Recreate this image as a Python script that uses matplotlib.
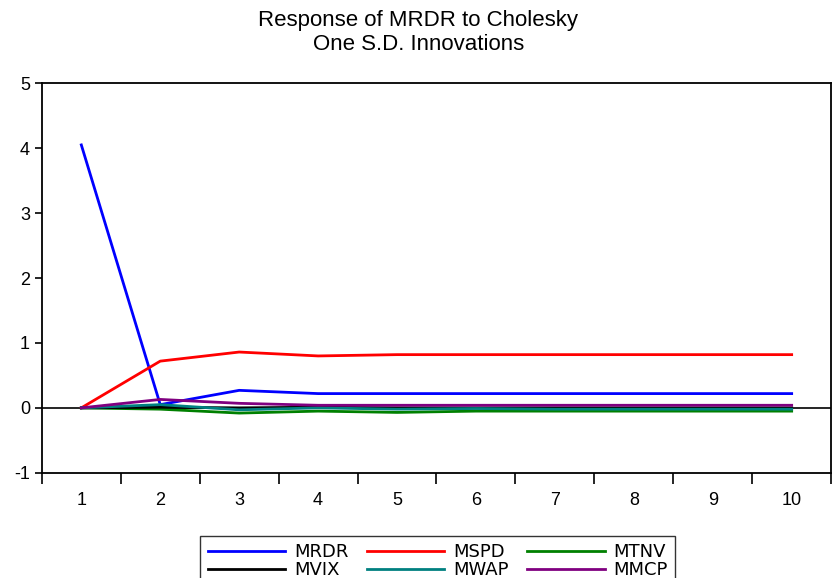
import numpy as np
import matplotlib.pyplot as plt

plt.rcParams['font.family'] = ['Liberation Sans', 'DejaVu Sans']
plt.rcParams['axes.unicode_minus'] = False

# periods
periods = [1, 2, 3, 4, 5, 6, 7, 8, 9, 10]

# responses of MRDR to each shock
mrdr = [4.05, 0.05, 0.27, 0.22, 0.22, 0.22, 0.22, 0.22, 0.22, 0.22]
mspd = [0.0, 0.72, 0.86, 0.80, 0.82, 0.82, 0.82, 0.82, 0.82, 0.82]
mtnv = [0.0, -0.02, -0.08, -0.05, -0.07, -0.05, -0.05, -0.05, -0.05, -0.05]
mvix = [0.0, 0.01, 0.0, 0.01, 0.0, 0.0, 0.0, 0.0, 0.0, 0.0]
mwap = [0.0, 0.05, -0.03, 0.0, -0.02, -0.01, -0.02, -0.02, -0.02, -0.02]
mmcp = [0.0, 0.13, 0.07, 0.04, 0.04, 0.04, 0.04, 0.04, 0.04, 0.04]

series = [
    ("MRDR", mrdr, "#0000ff"),
    ("MSPD", mspd, "#ff0000"),
    ("MTNV", mtnv, "#008000"),
    ("MVIX", mvix, "#000000"),
    ("MWAP", mwap, "#008080"),
    ("MMCP", mmcp, "#800080"),
]

fig = plt.figure(figsize=(8.37, 5.78), dpi=100)
ax = fig.add_axes([0.050, 0.182, 0.943, 0.674])

ax.axhline(0, color="black", lw=1.2, zorder=1)
lines = []
for name, vals, col in series:
    ln, = ax.plot(periods, vals, color=col, lw=2, label=name, zorder=2)
    lines.append(ln)

ax.set_xlim(0.5, 10.5)
ax.set_ylim(-1, 5)
ax.set_yticks([-1, 0, 1, 2, 3, 4, 5])
ax.set_xticks(periods)
ax.set_xticks(np.arange(0.5, 11, 1), minor=True)
ax.tick_params(axis="x", which="major", length=0, pad=14, labelsize=13)
ax.tick_params(axis="x", which="minor", length=8, width=1.2, direction="out")
ax.tick_params(axis="y", length=5, width=1.2, labelsize=13)
for s in ax.spines.values():
    s.set_linewidth(1.3)

fig.suptitle("Response of MRDR to Cholesky\nOne S.D. Innovations",
             y=0.983, fontsize=16, linespacing=1.2)

# legend order: rows MRDR MSPD MTNV / MVIX MWAP MMCP
order = [0, 3, 1, 4, 2, 5]
leg = fig.legend([lines[i] for i in order], [series[i][0] for i in order],
                 ncol=3, loc="lower center", bbox_to_anchor=(0.523, -0.03),
                 prop={"family": "DejaVu Sans", "size": 13},
                 frameon=True, fancybox=False, edgecolor="black",
                 handlelength=4.3, columnspacing=1.0, labelspacing=0.0,
                 borderpad=0.4, handletextpad=0.5)
leg.get_frame().set_linewidth(1.0)

fig.savefig("out.png", dpi=100)
